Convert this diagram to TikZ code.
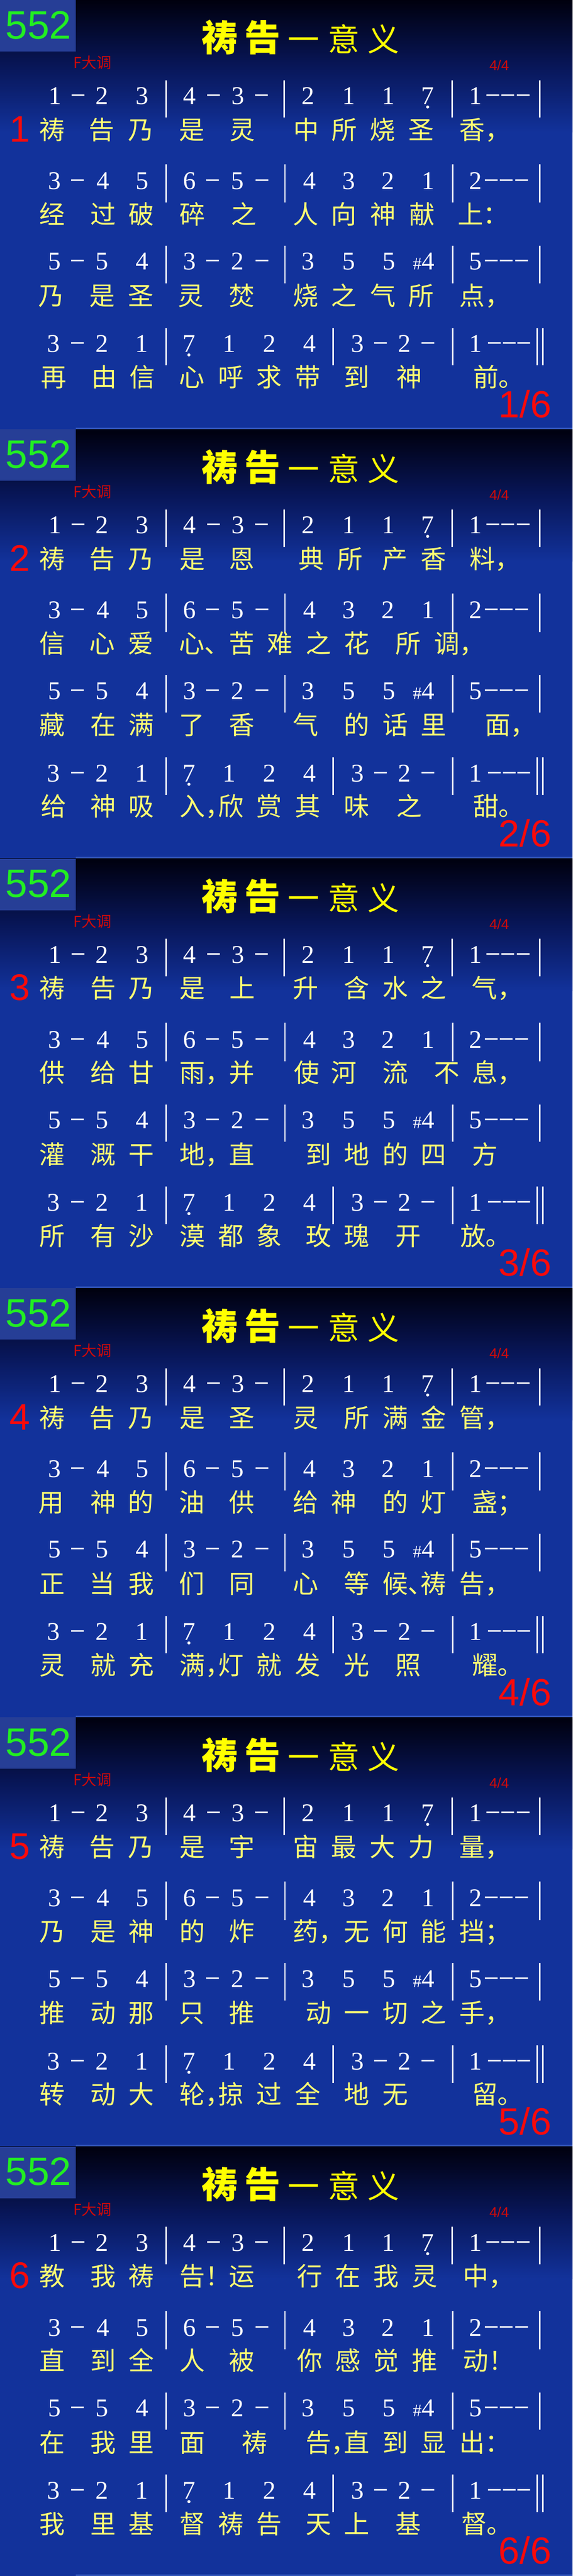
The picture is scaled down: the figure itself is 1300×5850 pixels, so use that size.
\documentclass[tikz,border=0pt]{standalone}
\usepackage{fontspec}
\setmainfont{Liberation Serif}
\newfontfamily\cjkf{Noto Sans CJK SC}
\newfontfamily\arialf{Liberation Sans}
\definecolor{bgtop}{RGB}{0,0,14}
\definecolor{bgmid}{RGB}{8,22,88}
\definecolor{bgmain}{RGB}{18,50,155}
\definecolor{boxblue}{RGB}{38,62,150}
\definecolor{edgeblue}{RGB}{50,85,185}
\definecolor{numgreen}{RGB}{34,238,34}
\definecolor{ttlyellow}{RGB}{255,255,0}
\definecolor{lyrc}{RGB}{255,255,115}
\definecolor{keyred}{RGB}{205,10,10}
\definecolor{brred}{RGB}{250,10,10}
\tikzset{
  lyr/.style={font=\cjkf\fontsize{58}{60}\selectfont, text=lyrc, anchor=base west, inner sep=0pt},
  dig/.style={font=\fontsize{58}{60}\selectfont, text=white, anchor=base, inner sep=0pt},
  dsh/.style={font=\arialf\fontsize{52}{56}\selectfont, text=white, anchor=base, inner sep=0pt},
  barline/.style={draw=white, line width=3.5pt},
  ttlb/.style={font=\cjkf\bfseries\fontsize{82}{84}\selectfont, text=ttlyellow, anchor=base, inner sep=0pt},
  ttlr/.style={font=\cjkf\fontsize{72}{74}\selectfont, text=ttlyellow, anchor=base, inner sep=0pt},
  small/.style={anchor=base west, text=keyred, inner sep=0pt}
}
\newcommand\lyrrow[3]{\foreach \px/\ch [count=\i] in {#3}{\node[lyr] (#1-\i) at (\px-29,#2) {\ch};}}
\newcommand\digrow[3]{\foreach \px/\d [count=\i] in {#3}{\node[dig] (#1-\i) at (\px,#2) {\d};}}
\newcommand\dashrow[3]{\foreach \px [count=\i] in {#3}{\node[dsh] (#1-\i) at (\px,#2-7) {–};}}
\newcommand\barrow[3]{\foreach \px in {#3}{\draw[barline] (\px,#1) -- (\px,#2);}}
\newcommand\hymnslide[5]{%
\begin{scope}[shift={(0,{975*(#1-1)})}]
  \shade[top color=bgtop, bottom color=bgmain, middle color=bgmid] (0,0) rectangle (1300,300);
  \fill[bgmain] (0,299) rectangle (1300,975);
  \fill[boxblue] (0,0) rectangle (172,117);
  \fill[edgeblue] (172,971) rectangle (1300,975);
  \node[anchor=base west, font=\arialf\fontsize{90}{92}\selectfont, text=numgreen, inner sep=0pt] (num#1) at (12,88) {552};
  \node[ttlb] (ta#1) at (499,117) {祷};
  \node[ttlb] (tb#1) at (596,117) {告};
  \node[ttlr] (tc#1) at (690,117) {一};
  \node[ttlr] (td#1) at (781,117) {意};
  \node[ttlr] (te#1) at (871,117) {义};
  \node[small, font=\cjkf\fontsize{34}{36}\selectfont] (key#1) at (166,155) {F大调};
  \node[small, font=\arialf\fontsize{32}{34}\selectfont] (meter#1) at (1111,160) {4/4};
  % row 1
  \digrow{ra#1}{237}{125/1,232/2,323/3,430/4,540/3,700/2,792/1,882/1,971/7,1080/1}
  \dashrow{da#1}{237}{178,485,594,1120,1154,1188}
  \fill[white] (971,243) circle (3.5pt);
  \barrow{182}{267}{377,645,1027,1226}
  % row 2
  \digrow{rb#1}{430}{124/3,234/4,323/5,431/6,539/5,703/4,792/3,881/2,972/1,1080/2}
  \dashrow{db#1}{430}{176,483,595,1116,1150,1185}
  \barrow{373}{460}{377,647,1028,1226}
  % row 3
  \digrow{rc#1}{613}{124/5,232/5,323/4,431/3,539/2,700/3,792/5,883/5,1080/5}
  \node[dig] (sharp#1) at (962,613) {{\fontsize{40}{40}\selectfont\#}4};
  \dashrow{dc#1}{613}{176,483,595,1116,1150,1185}
  \barrow{558}{643}{377,647,1028,1226}
  % row 4
  \digrow{rd#1}{800}{122/3,232/2,322/1,429/7,520/1,612/2,703/4,812/3,918/2,1080/1}
  \dashrow{dd#1}{800}{176,864,972,1123,1157,1190}
  \fill[white] (429,806) circle (3.5pt);
  \barrow{745}{830}{377,756,1028,1220,1233}
  % verse number and page
  \node[anchor=base west, font=\arialf\fontsize{84}{86}\selectfont, text=brred, inner sep=0pt] (verse#1) at (22,322) {#1};
  \node[anchor=base east, font=\arialf\fontsize{86}{88}\selectfont, text=brred, inner sep=0pt] (page#1) at (1252,948) {#1/6};
  % lyrics
  \lyrrow{la#1}{316}{#2}
  \lyrrow{lb#1}{508}{#3}
  \lyrrow{lc#1}{693}{#4}
  \lyrrow{ld#1}{878}{#5}
\end{scope}}
\begin{document}
\begin{tikzpicture}[x=1pt,y=-1pt]
\useasboundingbox (0,0) rectangle (1300,5850);
\hymnslide{1}
 {118/祷,231/告,319/乃,435/是,550/灵,695/中,782/所,868/烧,956/圣,1072/香，}
 {118/经,234/过,321/破,437/碎,553/之,694/人,781/向,869/神,958/献,1068/上：}
 {116/乃,232/是,319/圣,433/灵,549/焚,694/烧,781/之,869/气,956/所,1072/点，}
 {122/再,236/由,323/信,435/心,524/呼,611/求,699/带,810/到,929/神,1103/前。}
\hymnslide{2}
 {118/祷,232/告,319/乃,437/是,549/恩,707/典,794/所,896/产,984/香,1095/料，}
 {118/信,232/心,319/爱,435/心、,549/苦,636/难,723/之,810/花,927/所,1014/调，}
 {118/藏,234/在,321/满,435/了,549/香,694/气,810/的,897/话,984/里,1130/面，}
 {122/给,234/神,321/吸,437/入，,524/欣,611/赏,699/其,810/味,929/之,1103/甜。}
\hymnslide{3}
 {118/祷,234/告,321/乃,437/是,550/上,694/升,810/含,897/水,984/之,1100/气，}
 {118/供,234/给,321/甘,437/雨，,549/并,696/使,781/河,897/流,1014/不,1101/息，}
 {118/灌,234/溉,321/干,437/地，,549/直,723/到,810/地,897/的,984/四,1101/方}
 {118/所,234/有,321/沙,437/漠,524/都,611/象,723/玫,810/瑰,927/开,1074/放。}
\hymnslide{4}
 {118/祷,232/告,319/乃,437/是,549/圣,694/灵,810/所,897/满,984/金,1072/管，}
 {116/用,234/神,319/的,435/油,549/供,694/给,781/神,897/的,984/灯,1101/盏；}
 {118/正,232/当,321/我,435/们,549/同,694/心,810/等,897/候、,984/祷,1072/告，}
 {118/灵,234/就,321/充,437/满，,524/灯,611/就,699/发,810/光,927/照,1101/耀。}
\hymnslide{5}
 {118/祷,232/告,319/乃,437/是,549/宇,694/宙,781/最,868/大,956/力,1072/量，}
 {118/乃,234/是,321/神,437/的,549/炸,694/药，,810/无,897/何,984/能,1072/挡；}
 {118/推,234/动,321/那,435/只,549/推,723/动,810/一,897/切,984/之,1072/手，}
 {118/转,234/动,321/大,437/轮，,524/掠,611/过,699/全,810/地,897/无,1101/留。}
\hymnslide{6}
 {118/教,234/我,321/祷,437/告！,549/运,703/行,790/在,877/我,964/灵,1080/中，}
 {118/直,234/到,321/全,437/人,549/被,703/你,790/感,877/觉,964/推,1080/动！}
 {118/在,234/我,321/里,437/面,578/祷,723/告，,810/直,897/到,984/显,1072/出：}
 {118/我,234/里,321/基,437/督,524/祷,611/告,723/天,810/上,927/基,1076/督。}
\end{tikzpicture}
\end{document}
